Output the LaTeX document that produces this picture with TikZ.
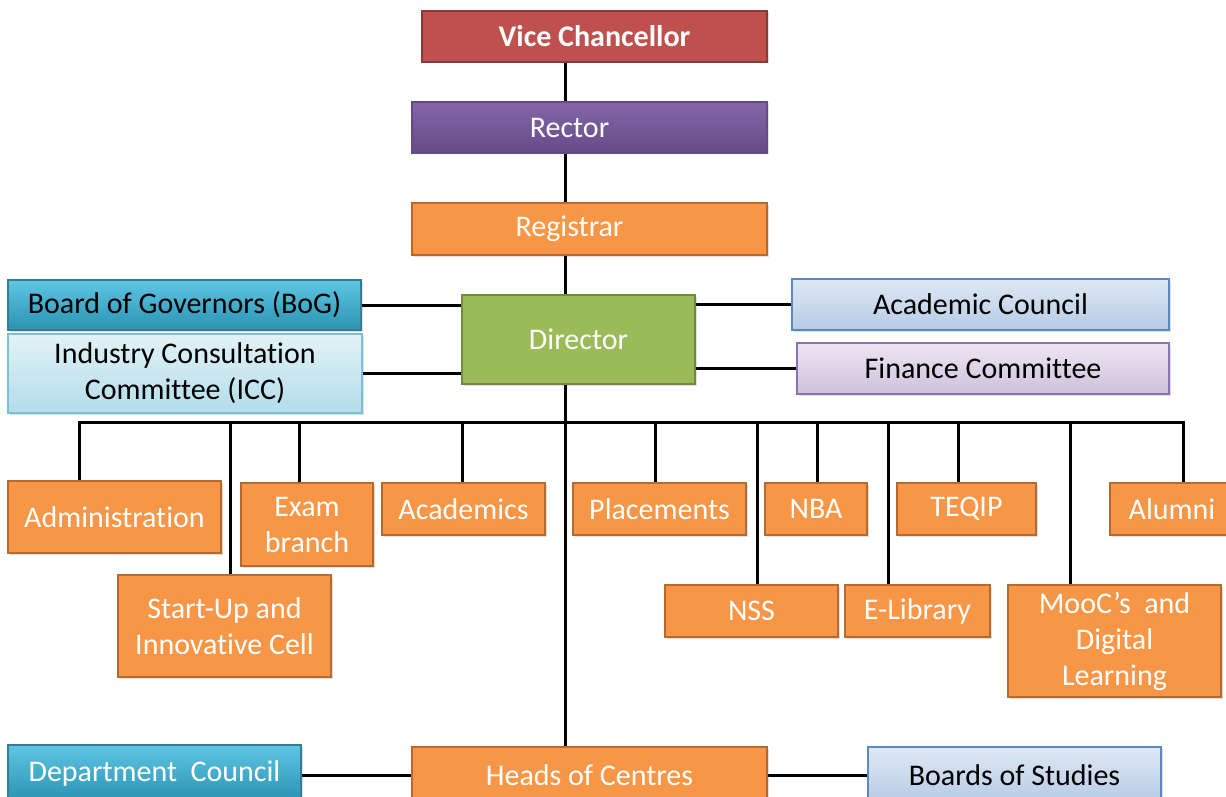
\documentclass[tikz,border=0pt]{standalone}
\usepackage{fontspec}
\setmainfont{Carlito}[Ligatures=NoCommon]
\usetikzlibrary{shadows}

\definecolor{orgfill}{HTML}{F79646}
\definecolor{orgline}{HTML}{B8692C}
\definecolor{vcfill}{HTML}{C0504D}
\definecolor{vcline}{HTML}{8C3836}
\definecolor{rectop}{HTML}{8466A8}
\definecolor{recbot}{HTML}{654A88}
\definecolor{dirfill}{HTML}{9BBB59}
\definecolor{dirline}{HTML}{71893F}
\definecolor{tealtop}{HTML}{5CC6E4}
\definecolor{tealbot}{HTML}{2C93B2}
\definecolor{tealline}{HTML}{357D91}
\definecolor{icctop}{HTML}{E2F2F7}
\definecolor{iccbot}{HTML}{B3DDEA}
\definecolor{iccline}{HTML}{79C1D6}
\definecolor{acctop}{HTML}{DFE8F4}
\definecolor{accbot}{HTML}{B6CBE5}
\definecolor{accline}{HTML}{5B8AC3}
\definecolor{fintop}{HTML}{EDE6F2}
\definecolor{finbot}{HTML}{CEC1DC}
\definecolor{finline}{HTML}{8D73AE}

\tikzset{
  unit/.style={draw, line width=1.3pt, inner sep=0pt, align=center,
    font=\fontsize{30}{36}\selectfont,
    drop shadow={opacity=0.25, shadow xshift=1.5pt, shadow yshift=-1.5pt}},
  office/.style={unit, fill=orgfill, draw=orgline, text=white},
  vcbox/.style={unit, fill=vcfill, draw=vcline, text=white},
  recbox/.style={unit, top color=rectop, bottom color=recbot, draw=recbot, text=white},
  dirbox/.style={unit, fill=dirfill, draw=dirline, text=white},
  tealbox/.style={unit, top color=tealtop, bottom color=tealbot, draw=tealline},
  iccbox/.style={unit, top color=icctop, bottom color=iccbot, draw=iccline},
  accbox/.style={unit, top color=acctop, bottom color=accbot, draw=accline},
  finbox/.style={unit, top color=fintop, bottom color=finbot, draw=finline},
  link/.style={line width=3pt, black},
}

\begin{document}
\begin{tikzpicture}[x=1pt,y=-1pt]
    \useasboundingbox (0,0) rectangle (1226,797);
    \fill[white] (0,0) rectangle (1226,797);
    \clip (0,0) rectangle (1226,797);
    \coordinate (spine) at (565,0);

    % top of the chain
    \node[vcbox, minimum width=345, minimum height=51] (vc) at (594.5,36.5) {\textbf{Vice Chancellor}};
    \node[recbox, minimum width=355, minimum height=51] (rec) at (589.5,127.5) {Rector\hspace*{40pt}};
    \node[office, minimum width=355, minimum height=52] (reg) at (589.5,229) {Registrar\hspace*{40pt}};
    \node[dirbox, minimum width=233, minimum height=89] (dir) at (578.5,339.5) {Director};

    % bodies beside the director
    \node[tealbox, minimum width=353, minimum height=50] (bog) at (184.5,305) {Board of Governors (BoG)};
    \node[iccbox, minimum width=354, minimum height=79] (icc) at (185,373.5) {Industry Consultation\\Committee (ICC)};
    \node[accbox, minimum width=377, minimum height=51] (acc) at (980.5,304.5) {Academic Council};
    \node[finbox, minimum width=372, minimum height=51] (fin) at (983,368.5) {Finance Committee};

    % sections under the director
    \node[office, minimum width=213, minimum height=72] (adm) at (114.5,517) {Administration};
    \node[office, minimum width=132, minimum height=83] (exm) at (307,524.5) {Exam\\branch};
    \node[office, minimum width=213, minimum height=102] (sup) at (224.5,626) {Start-Up and\\Innovative Cell};
    \node[office, minimum width=163, minimum height=52] (aca) at (463.5,509) {Academics};
    \node[office, minimum width=173, minimum height=52] (plc) at (659.5,509) {Placements};
    \node[office, minimum width=173, minimum height=52] (nss) at (751.5,611) {NSS};
    \node[office, minimum width=102, minimum height=52] (nba) at (816,509) {NBA};
    \node[office, minimum width=145, minimum height=52] (elb) at (917.5,611) {E-Library};
    \node[office, minimum width=139, minimum height=52] (teq) at (966.5,509) {TEQIP};
    \node[office, minimum width=213, minimum height=112] (moo) at (1114.5,641) {MooC’s\ \ and\\Digital\\Learning};
    \node[office, minimum width=124, minimum height=52] (alu) at (1172,509) {Alumni};

    % bottom row
    \node[tealbox, text=white, minimum width=293, minimum height=56] (dpc) at (154.5,773) {Department\ \ Council};
    \node[office, minimum width=355, minimum height=56] (hoc) at (589.5,775) {Heads of Centres};
    \node[accbox, minimum width=293, minimum height=56] (bos) at (1014.5,775) {Boards of Studies};

    % connectors
    \draw[link] (vc.south -| spine) -- (rec.north -| spine);
    \draw[link] (rec.south -| spine) -- (reg.north -| spine);
    \draw[link] (reg.south -| spine) -- (dir.north -| spine);
    \draw[link] (dir.south -| spine) -- (hoc.north -| spine);
    \draw[link] (bog.east) -- (bog.east -| dir.west);
    \draw[link] (icc.east) -- (icc.east -| dir.west);
    \draw[link] (acc.west) -- (acc.west -| dir.east);
    \draw[link] (fin.west) -- (fin.west -| dir.east);
    \draw[link] (hoc.west -| dpc.east) -- (hoc.west);
    \draw[link] (hoc.east) -- (bos.west);

    \foreach \n/\x in {adm/79, sup/230, exm/299, aca/462, plc/655, nss/757,
                       nba/817, elb/888, teq/958, moo/1070, alu/1183} {
        \coordinate (bus-\n) at (\x,422);
        \draw[link] (bus-\n) -- (bus-\n |- \n.north);
    }
    \draw[link, line cap=rect] (bus-adm) -- (bus-alu);
\end{tikzpicture}
\end{document}
